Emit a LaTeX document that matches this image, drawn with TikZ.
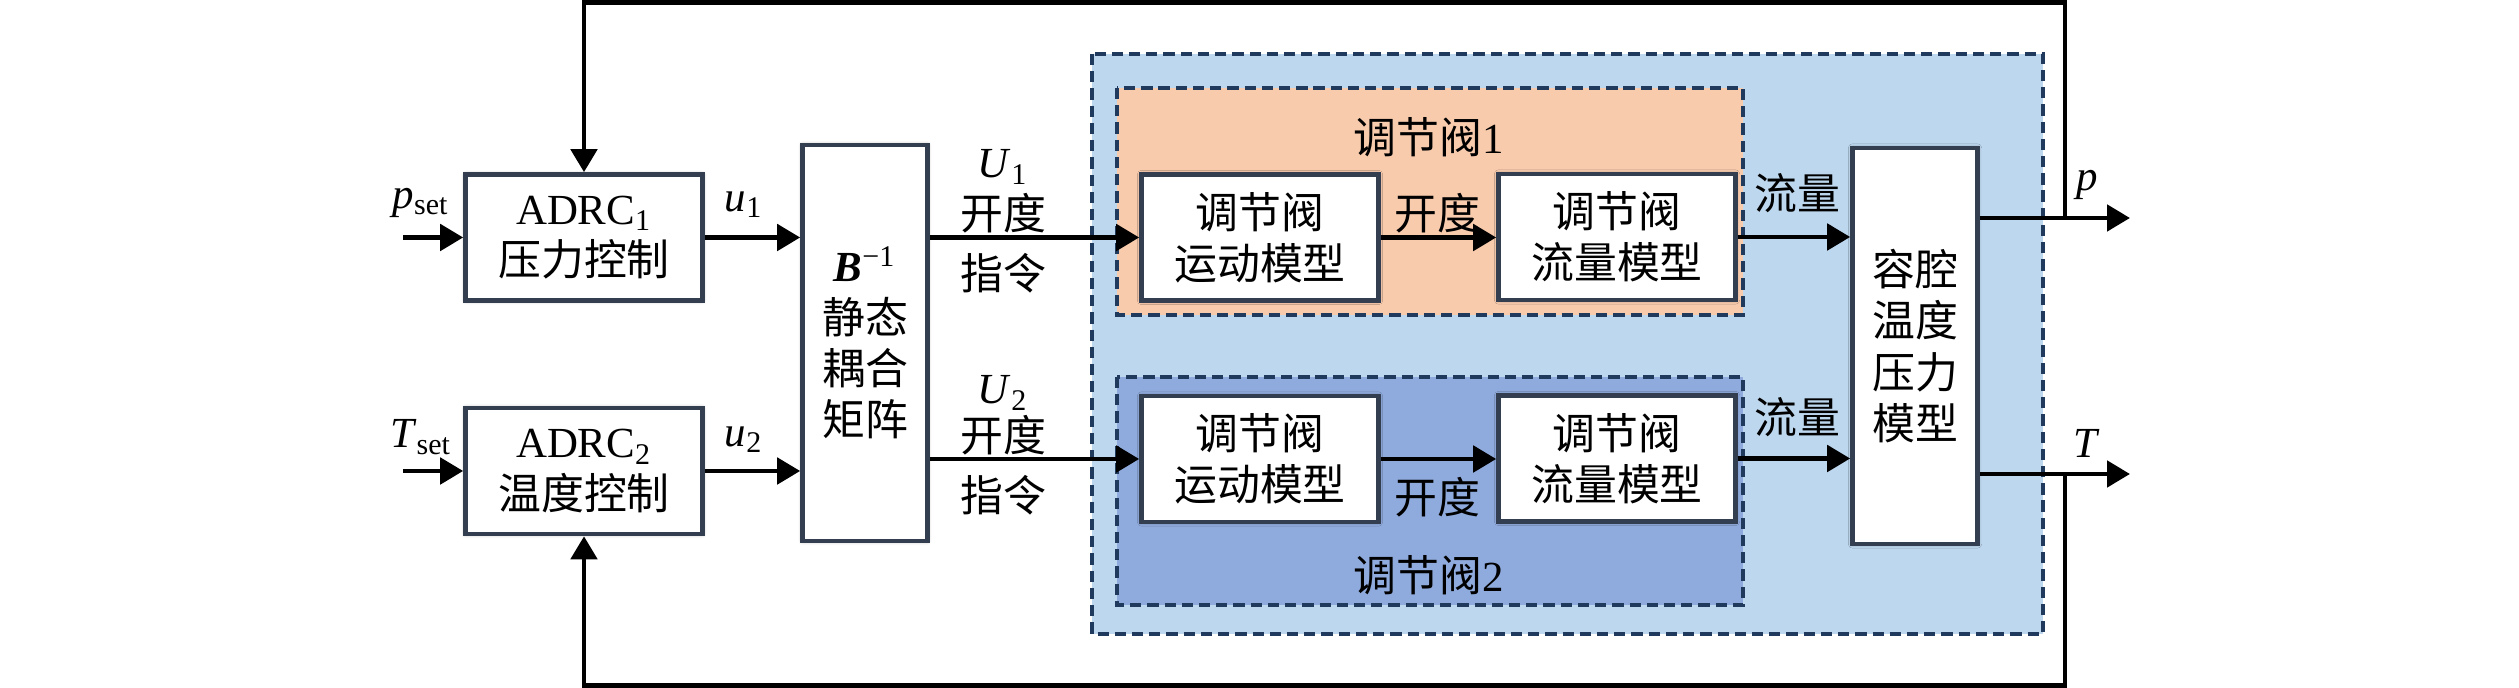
\documentclass[tikz,border=0pt]{standalone}
\usepackage{fontspec}
\setmainfont{Liberation Serif}
\newfontfamily\cjkfont{Noto Sans CJK SC}
\newcommand{\zh}[1]{{\cjkfont #1}}
\usepackage{tikz}
\definecolor{frame}{HTML}{333F50}
\definecolor{dashline}{HTML}{1F3A5C}
\definecolor{plantbg}{HTML}{BDD7EE}
\definecolor{valveA}{HTML}{F8CBAD}
\definecolor{valveB}{HTML}{8FAADC}
\usetikzlibrary{
  arrows.meta,
  calc,
  shadows.blur
}
\tikzset{
  every picture/.style={line join=miter},
  every node/.style={font=\fontsize{12.2}{14.6}\selectfont, text=black, inner sep=0pt},
  shadow/.style={
    blur shadow={
      shadow blur steps=5,
      shadow blur radius=1.2pt,
      shadow xshift=0pt,
      shadow yshift=0pt,
      shadow opacity=35
    }
  },
  block/.style={
    draw=frame,
    fill=white,
    line width=1.3pt,
    align=center,
    minimum width=23.7mm,
    minimum height=12.6mm,
    shadow
  },
  tallblock/.style={block, minimum width=12.5mm, minimum height=39.6mm},
  region/.style={draw=dashline, line width=1.3pt, dash pattern=on 3.2pt off 1.7pt},
  arrow/.style={-{Triangle[length=2.3mm,width=2.6mm]}, line width=1.4pt, draw=black},
  annot/.style={align=center}
}

\begin{document}
\begin{tikzpicture}
  \useasboundingbox (0,0) rectangle (25.19,-6.88);

  % Regions (plant and the two valves)
  \draw[region, fill=plantbg] (10.92,-0.54) rectangle (20.43,-6.34);
  \draw[region, fill=valveA] (11.17,-0.88) rectangle (17.43,-3.15);
  \draw[region, fill=valveB] (11.17,-3.77) rectangle (17.43,-6.05);

  % Nodes
  \node[block] (adrc1) at (5.84,-2.375) {ADRC\textsubscript{1}\\\zh{压力控制}};
  \node[block] (adrc2) at (5.84,-4.71) {ADRC\textsubscript{2}\\\zh{温度控制}};
  \node[tallblock] (bmat) at (8.65,-3.43)
    {{\bfseries\itshape B}\textsuperscript{\symbol{"2212}1}\\\zh{静态}\\\zh{耦合}\\\zh{矩阵}};
  \node[block] (mot1) at (12.60,-2.375) {\zh{调节阀}\\\zh{运动模型}};
  \node[block] (flw1) at (16.17,-2.37) {\zh{调节阀}\\\zh{流量模型}};
  \node[block] (mot2) at (12.60,-4.59) {\zh{调节阀}\\\zh{运动模型}};
  \node[block] (flw2) at (16.17,-4.585) {\zh{调节阀}\\\zh{流量模型}};
  \node[tallblock] (cav) at (19.15,-3.46) {\zh{容腔}\\\zh{温度}\\\zh{压力}\\\zh{模型}};

  \coordinate (pin) at (4.03,-2.375);
  \coordinate (tin) at (4.03,-4.71);
  \coordinate (pout) at (21.30,-2.18);
  \coordinate (tout) at (21.30,-4.74);
  \coordinate (fbx) at (20.65,0);
  \coordinate (fbtop) at (0,-0.025);
  \coordinate (fbbot) at (0,-6.855);

  % Signal paths
  \draw[arrow] (pin) -- (adrc1.west);
  \draw[arrow] (tin) -- (adrc2.west);
  \draw[arrow] (adrc1.east) -- (adrc1.east -| bmat.west);
  \draw[arrow] (adrc2.east) -- (adrc2.east -| bmat.west);
  \draw[arrow] (bmat.east |- mot1.west) -- (mot1.west);
  \draw[arrow] (bmat.east |- mot2.west) -- (mot2.west);
  \draw[arrow] (mot1.east) -- (mot1.east -| flw1.west);
  \draw[arrow] (mot2.east) -- (mot2.east -| flw2.west);
  \draw[arrow] (flw1.east) -- (flw1.east -| cav.west);
  \draw[arrow] (flw2.east) -- (flw2.east -| cav.west);
  \draw[arrow] (cav.east |- pout) -- (pout);
  \draw[arrow] (cav.east |- tout) -- (tout);

  % Feedback
  \draw[arrow] (fbx |- pout) |- (adrc1.north |- fbtop) -- (adrc1.north);
  \draw[arrow] (fbx |- tout) |- (adrc2.south |- fbbot) -- (adrc2.south);

  % Labels
  \node[annot] (pset) at (4.21,-2.03) {\textit{p}\textsubscript{set}};
  \node[annot] (tset) at (4.21,-4.37) {\textit{T}\textsubscript{set}};
  \node[annot] (u1) at (7.44,-2.05) {\textit{u}\textsubscript{1}};
  \node[annot] (u2) at (7.44,-4.40) {\textit{u}\textsubscript{2}};
  \node[annot] (cmd1a) at (10.03,-1.67) {\textit{U}\textsubscript{1}};
  \node[annot] (cmd1b) at (10.03,-2.13) {\zh{开度}};
  \node[annot] (cmd1c) at (10.03,-2.73) {\zh{指令}};
  \node[annot] (cmd2a) at (10.03,-3.93) {\textit{U}\textsubscript{2}};
  \node[annot] (cmd2b) at (10.03,-4.35) {\zh{开度}};
  \node[annot] (cmd2c) at (10.03,-4.95) {\zh{指令}};
  \node[annot] (v1title) at (14.29,-1.37) {\zh{调节阀}1};
  \node[annot] (v2title) at (14.29,-5.75) {\zh{调节阀}2};
  \node[annot] (open1) at (14.37,-2.13) {\zh{开度}};
  \node[annot] (open2) at (14.37,-4.97) {\zh{开度}};
  \node[annot] (flow1) at (17.97,-1.93) {\zh{流量}};
  \node[annot] (flow2) at (17.97,-4.17) {\zh{流量}};
  \node[annot] (plab) at (20.87,-1.85) {\textit{p}};
  \node[annot] (tlab) at (20.87,-4.43) {\textit{T}};
\end{tikzpicture}
\end{document}
